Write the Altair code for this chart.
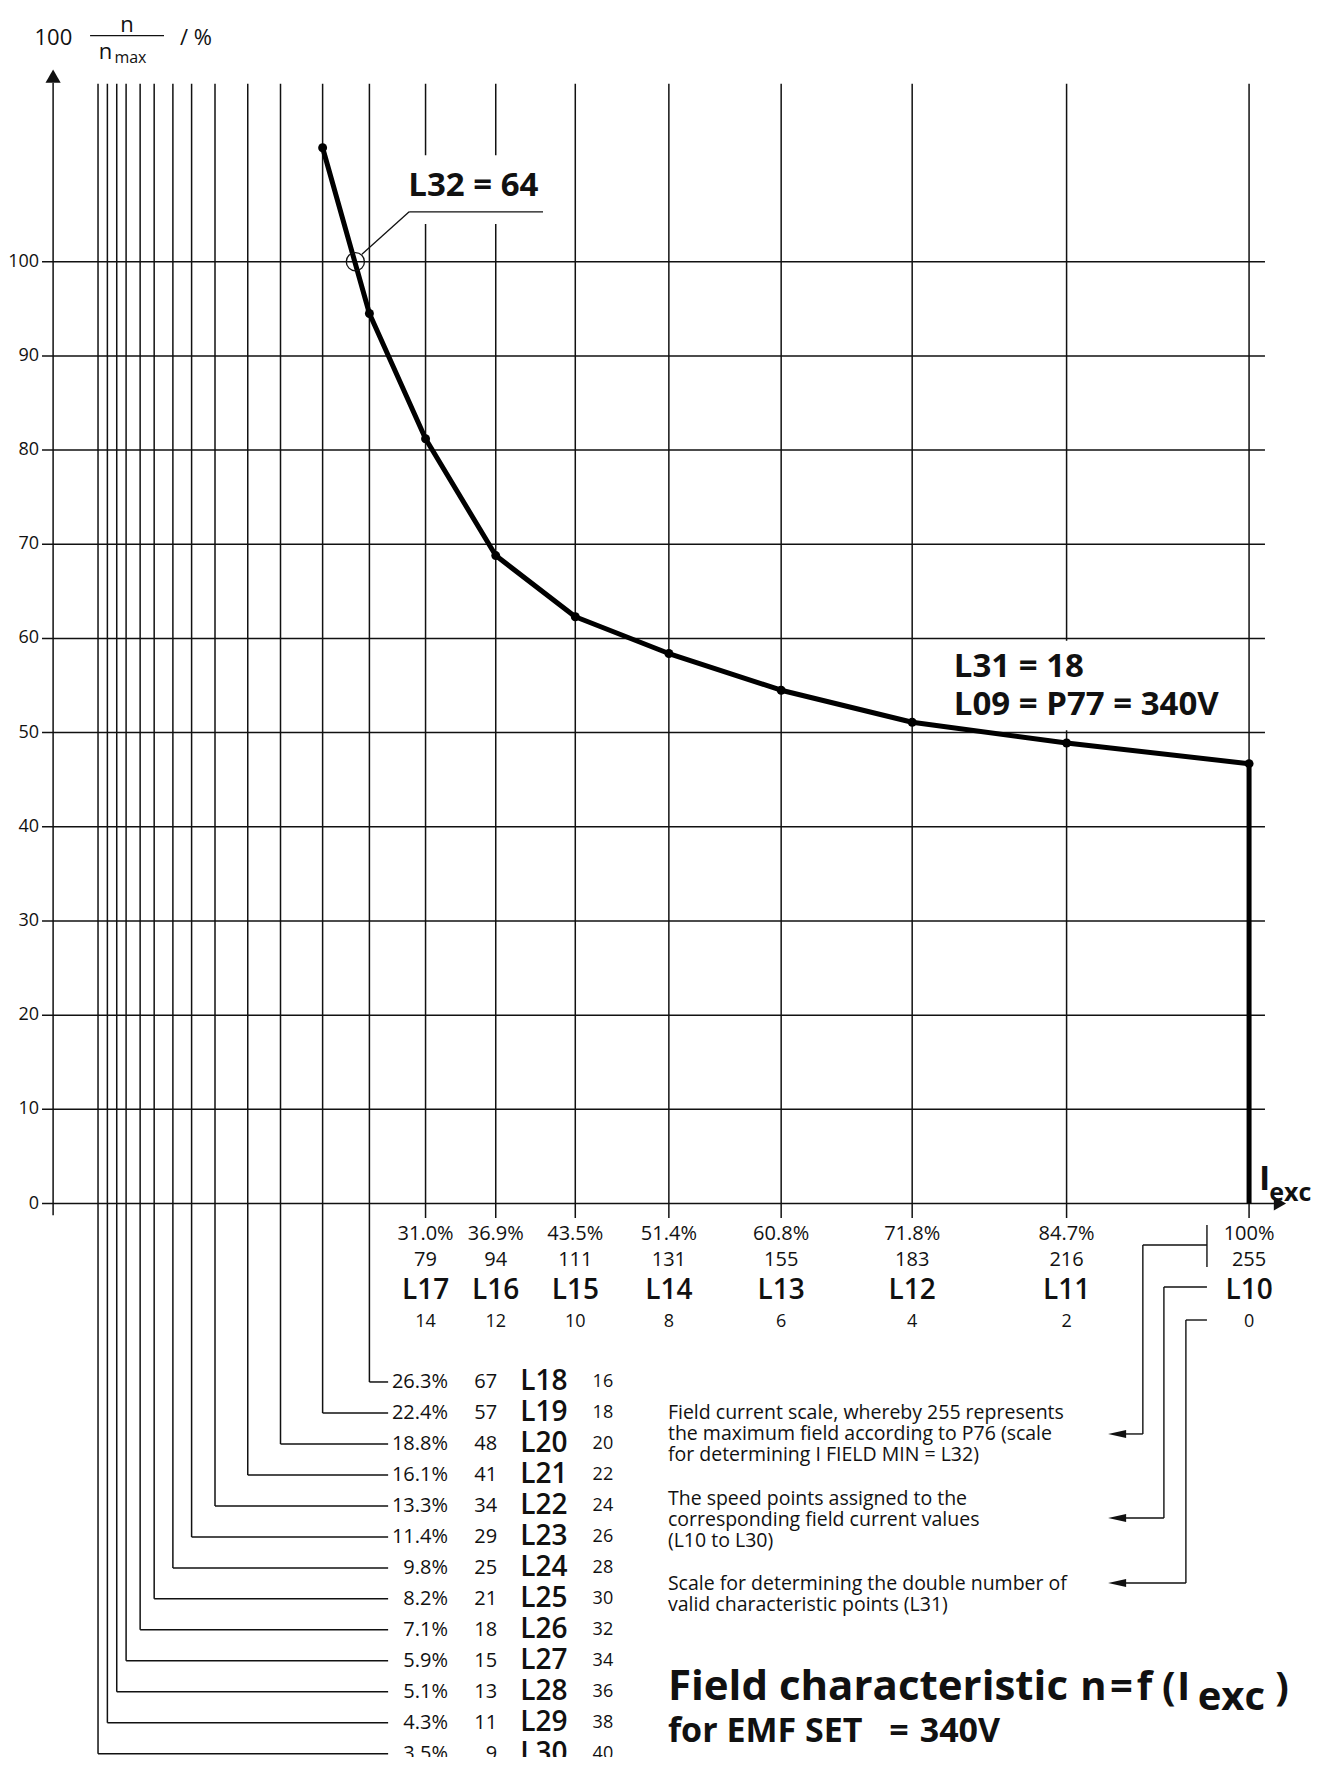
import altair as alt
import pandas as pd

# ---------------- data ----------------
params = ["L10", "L11", "L12", "L13", "L14", "L15", "L16", "L17", "L18", "L19",
          "L20", "L21", "L22", "L23", "L24", "L25", "L26", "L27", "L28", "L29", "L30"]
field_pct = ["100%", "84.7%", "71.8%", "60.8%", "51.4%", "43.5%", "36.9%", "31.0%",
             "26.3%", "22.4%", "18.8%", "16.1%", "13.3%", "11.4%", "9.8%", "8.2%",
             "7.1%", "5.9%", "5.1%", "4.3%", "3.5%"]
field_val = [255, 216, 183, 155, 131, 111, 94, 79, 67, 57, 48, 41, 34, 29, 25, 21, 18, 15, 13, 11, 9]
point_no = [0, 2, 4, 6, 8, 10, 12, 14, 16, 18, 20, 22, 24, 26, 28, 30, 32, 34, 36, 38, 40]

curve_params = ["L10", "L11", "L12", "L13", "L14", "L15", "L16", "L17", "L18", "L19"]
speed_pct = [46.7, 48.9, 51.1, 54.5, 58.4, 62.3, 68.8, 81.2, 94.5, 112.1]

y_ticks = [0, 10, 20, 30, 40, 50, 60, 70, 80, 90, 100]
L32_value = 64

block1 = ["Field current scale, whereby 255 represents",
          "the maximum field according to P76 (scale",
          "for determining I FIELD MIN = L32)"]
block2 = ["The speed points assigned to the",
          "corresponding field current values",
          "(L10 to L30)"]
block3 = ["Scale for determining the double number of",
          "valid characteristic points (L31)"]

# ---------------- layout (data units of the two scales) ----------------
X_DOM = [-10.24, 268.45]
Y_DOM = [-58.77, 126.94]
FONT = "Open Sans"
INK = "#111111"

GRID_TOP = 118.9
TICK_BOTTOM = -1.54
ROW0, ROW_STEP = -18.95, 3.29
LEADER_END = 71.0
AX_X = -0.6
GRID_LEFT, GRID_RIGHT, ZERO_RIGHT = -2.97, 258.4, 261.0
SMALL = 20
ARROW_LEFT = "M-1,0 L1,-0.45 L1,0.45 Z"


def X(f="x"):
    return alt.X(f"{f}:Q", scale=alt.Scale(domain=X_DOM, nice=False, zero=False), axis=None)


def Y(f="y"):
    return alt.Y(f"{f}:Q", scale=alt.Scale(domain=Y_DOM, nice=False, zero=False), axis=None)


def rules(rows, width=1.4, color=INK):
    df = pd.DataFrame(rows, columns=["x", "x2", "y", "y2"])
    return alt.Chart(df).mark_rule(color=color, strokeWidth=width).encode(
        x=X(), x2="x2:Q", y=Y(), y2="y2:Q")


def texts(rows, size=SMALL, weight="normal", align="left", baseline="middle"):
    df = pd.DataFrame(rows, columns=["x", "y", "t"])
    return alt.Chart(df).mark_text(font=FONT, fontSize=size, fontWeight=weight, align=align,
                                   baseline=baseline, color=INK).encode(x=X(), y=Y(), text="t:N")


def symbols(rows, shape, size, filled=True, sw=1):
    df = pd.DataFrame(rows, columns=["x", "y"])
    return alt.Chart(df).mark_point(shape=shape, size=size, filled=filled, color=INK,
                                    opacity=1, strokeWidth=sw).encode(x=X(), y=Y())


row_y = {p: ROW0 - i * ROW_STEP for i, p in enumerate(params[8:])}

# vertical field-current lines
vrows = []
for p, v in zip(params, field_val):
    bottom = row_y.get(p, TICK_BOTTOM)
    vrows.append([v, v, GRID_TOP, bottom])
    if p in row_y:
        vrows.append([v, LEADER_END, bottom, bottom])
vlines = rules(vrows, 1.5)

# white boxes behind the two annotations
boxes = alt.Chart(pd.DataFrame([[74.4, 104.7, 104.0, 111.3], [191.1, 252.0, 50.25, 59.75]],
                               columns=["x", "x2", "y", "y2"])).mark_rect(color="white").encode(
    x=X(), x2="x2:Q", y=Y(), y2="y2:Q")

# horizontal grid + axes
hrows = [[GRID_LEFT, ZERO_RIGHT if t == 0 else GRID_RIGHT, t, t] for t in y_ticks]
hrows.append([AX_X, AX_X, TICK_BOTTOM + 0.3, 119.0])
hlines = rules(hrows, 1.5)
arrows_axes = symbols([[AX_X, 119.7]], "triangle-up", 230) + symbols([[261.6, 0]], "triangle-right", 200)

ytext = texts([[-3.6, t, str(t)] for t in y_ticks], size=18, align="right")

# y-axis title  100 n/nmax / %
ytitle = (texts([[3.5, 123.75, "100"]], size=22, align="right")
          + texts([[15.2, 125.1, "n"]], size=22, align="center")
          + rules([[7.3, 23.1, 124.0, 124.0]], 1.2)
          + texts([[10.6, 122.3, "n"]], size=22, align="center")
          + texts([[12.5, 121.6, "max"]], size=16)
          + texts([[26.5, 123.75, "/  %"]], size=22))

# curve
curve_df = pd.DataFrame({"x": field_val[:10], "y": speed_pct, "p": curve_params})
curve = alt.Chart(curve_df).mark_line(color="black", strokeWidth=5, strokeJoin="round").encode(
    x=X(), y=Y(), order="x:Q")
dots = alt.Chart(curve_df).mark_point(shape="circle", size=80, filled=True, color="black",
                                      opacity=1).encode(x=X(), y=Y())
drop = alt.Chart(curve_df.iloc[[0]]).mark_rule(color="black", strokeWidth=5).encode(
    x=X(), y=Y(), y2=alt.datum(0))

# L32 annotation
l32 = (symbols([[L32_value, 100]], "circle", 330, filled=False, sw=1.3)
       + rules([[65.4, 75.5, 100.8, 105.3], [75.5, 104.1, 105.3, 105.3]], 1.3)
       + texts([[75.3, 108.0, "L32 = 64"]], size=33, weight="bold"))

l31 = texts([[191.9, 57.0, "L31 = 18"], [191.9, 52.9, "L09 = P77 = 340V"]], size=33, weight="bold")

iexc = texts([[257.1, 1.45, "I"]], size=34, weight="bold", baseline="alphabetic") + \
       texts([[263.8, 0.3, "exc"]], size=25, weight="bold", align="center", baseline="alphabetic")

# labels under the axis for L10..L17
pct_rows, val_rows, par_rows, num_rows = [], [], [], []
for p, v, pc, n in zip(params[:8], field_val[:8], field_pct[:8], point_no[:8]):
    pct_rows.append([v, -3.24, pc])
    val_rows.append([v, -6.0, str(v)])
    par_rows.append([v, -9.29, p])
    num_rows.append([v, -12.58, str(n)])
under = (texts(pct_rows, SMALL, align="center") + texts(val_rows, SMALL, align="center")
         + texts(par_rows, 28, 600, align="center") + texts(num_rows, 18, align="center"))

# labels at the leader lines for L18..L30
side_pct, side_val, side_p, side_n = [], [], [], []
for p, v, pc, n in zip(params[8:], field_val[8:], field_pct[8:], point_no[8:]):
    y = row_y[p]
    side_pct.append([83.8, y, pc])
    side_val.append([94.3, y, str(v)])
    side_p.append([104.3, y, p])
    side_n.append([116.9, y, str(n)])
side = (texts(side_pct, SMALL, align="right") + texts(side_val, SMALL, align="right")
        + texts(side_p, 28, 600, align="center") + texts(side_n, 18, align="center"))

# right-hand brackets and explanation texts
ARROW_X = 226.8
brk = rules([
    [246.0, 246.0, -2.28, -6.74],
    [246.0, 232.3, -4.41, -4.41], [232.3, 232.3, -4.41, -24.47], [232.3, ARROW_X, -24.47, -24.47],
    [246.0, 236.8, -8.87, -8.87], [236.8, 236.8, -8.87, -33.4], [236.8, ARROW_X, -33.4, -33.4],
    [246.0, 241.5, -12.37, -12.37], [241.5, 241.5, -12.37, -40.3], [241.5, ARROW_X, -40.3, -40.3],
], 1.4)
brk_heads = symbols([[ARROW_X, -24.47], [ARROW_X, -33.4], [ARROW_X, -40.3]], ARROW_LEFT, 324)

blocks = texts(
    [[130.8, -22.24 - 2.23 * i, s] for i, s in enumerate(block1)]
    + [[130.8, -31.4 - 2.2 * i, s] for i, s in enumerate(block2)]
    + [[130.8, -40.4 - 2.2 * i, s] for i, s in enumerate(block3)], size=19.5)

TITLE_BASE = -52.72
SUB_BASE = -57.2
title = (texts([[130.8, TITLE_BASE, "Field characteristic"]], size=42, weight="bold",
               baseline="alphabetic")
         + texts([[218.9, TITLE_BASE, "n"], [225.3, TITLE_BASE, "="], [231.0, TITLE_BASE, "f"],
                  [236.4, TITLE_BASE, "("], [239.6, TITLE_BASE, "I"], [260.6, TITLE_BASE, ")"]],
                 size=40, weight="bold", baseline="alphabetic")
         + texts([[251.2, -53.78, "exc"]], size=40, weight="bold", align="center",
                 baseline="alphabetic")
         + texts([[130.8, SUB_BASE, "for EMF SET"], [178.1, SUB_BASE, "="]], size=34, weight="bold",
                 baseline="alphabetic")
         + texts([[201.8, SUB_BASE, "340V"]], size=34, weight="bold", align="right",
                 baseline="alphabetic"))

chart = alt.layer(
    vlines, boxes, hlines, arrows_axes, ytext, ytitle,
    curve, drop, dots, l32, l31, iexc,
    under, side, brk, brk_heads, blocks, title
).properties(
    width=1304, height=1749, padding=0,
    autosize=alt.AutoSizeParams(type="none"),
    background="white",
).configure_view(stroke=None)

chart.save("out.html", embed_options={"renderer": "svg", "actions": False})
